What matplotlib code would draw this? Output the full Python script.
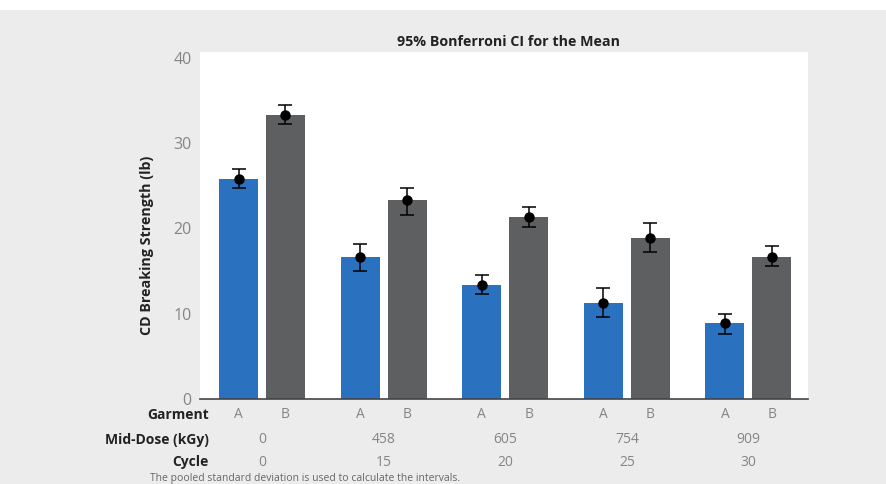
import numpy as np
import matplotlib.pyplot as plt
from matplotlib.patches import Rectangle

plt.rcParams['font.family'] = ['Open Sans', 'DejaVu Sans']

# data
doses = ['0', '458', '605', '754', '909']
cycles = ['0', '15', '20', '25', '30']
mean_a = [25.8, 16.6, 13.4, 11.3, 8.9]
low_a = [24.7, 15.0, 12.3, 9.6, 7.6]
high_a = [27.0, 18.2, 14.6, 13.0, 10.0]
mean_b = [33.3, 23.3, 21.4, 18.9, 16.7]
low_b = [32.2, 21.6, 20.2, 17.3, 15.6]
high_b = [34.5, 24.8, 22.5, 20.6, 17.9]

blue = '#2a72bf'
grey = '#5e5f61'
bg = '#ececec'
txt = '#858585'

fig = plt.figure(figsize=(8.86, 4.84), dpi=100, facecolor=bg)
fig.patches.append(Rectangle((0, 1 - 10/484), 1, 10/484, transform=fig.transFigure,
                             facecolor='white', edgecolor='none', zorder=0))
ax = fig.add_axes([200/886, 85/484, 608/886, 347/484])
ax.set_facecolor('white')

x = np.arange(len(doses))
off = 0.193
w = 0.32
xa = x - off
xb = x + off
ax.bar(xa, mean_a, width=w, color=blue, zorder=2)
ax.bar(xb, mean_b, width=w, color=grey, zorder=2)

ma = np.array(mean_a)
mb = np.array(mean_b)
ea = [ma - np.array(low_a), np.array(high_a) - ma]
eb = [mb - np.array(low_b), np.array(high_b) - mb]
for xs, m, e in [(xa, ma, ea), (xb, mb, eb)]:
    ax.errorbar(xs, m, yerr=e, fmt='o', color='black', ms=6.5, capsize=4.8,
                elinewidth=1.1, capthick=1.1, zorder=3)

ax.set_xlim(-0.51, 4.49)
ax.set_ylim(0, 40.7)
ax.set_yticks([0, 10, 20, 30, 40])
ax.set_xticks([])
ax.tick_params(axis='y', length=0, pad=6, labelsize=11.5, labelcolor=txt)
for s in ['top', 'right', 'left']:
    ax.spines[s].set_visible(False)
ax.spines['bottom'].set_color('#444444')
ax.spines['bottom'].set_linewidth(1.2)

ax.set_ylabel('CD Breaking Strength (lb)', fontsize=10.3, fontweight='bold', color='#222222')
ax.yaxis.set_label_coords(-0.076, 0.444)

ax.set_title('95% Bonferroni CI for the Mean', fontsize=10.3, fontweight='bold',
             color='#222222', x=0.507, pad=4.5)

# table below the axis
tr = ax.get_xaxis_transform()
rows = [('Garment', -0.046), ('Mid-Dose (kGy)', -0.118), ('Cycle', -0.182)]
for lab, yy in rows:
    ax.text(0.015, yy, lab, transform=ax.transAxes, ha='right', va='center',
            fontsize=10, fontweight='bold', color='#222222')
for i in range(len(doses)):
    ax.text(xa[i], -0.046, 'A', transform=tr, ha='center', va='center', fontsize=10, color=txt)
    ax.text(xb[i], -0.046, 'B', transform=tr, ha='center', va='center', fontsize=10, color=txt)
    ax.text(x[i], -0.118, doses[i], transform=tr, ha='center', va='center', fontsize=10, color=txt)
    ax.text(x[i], -0.182, cycles[i], transform=tr, ha='center', va='center', fontsize=10, color=txt)

fig.text(150/886, 5/484, 'The pooled standard deviation is used to calculate the intervals.',
         ha='left', va='center', fontsize=7.5, color='#666666')

fig.savefig('out.png', dpi=100, facecolor=fig.get_facecolor())
